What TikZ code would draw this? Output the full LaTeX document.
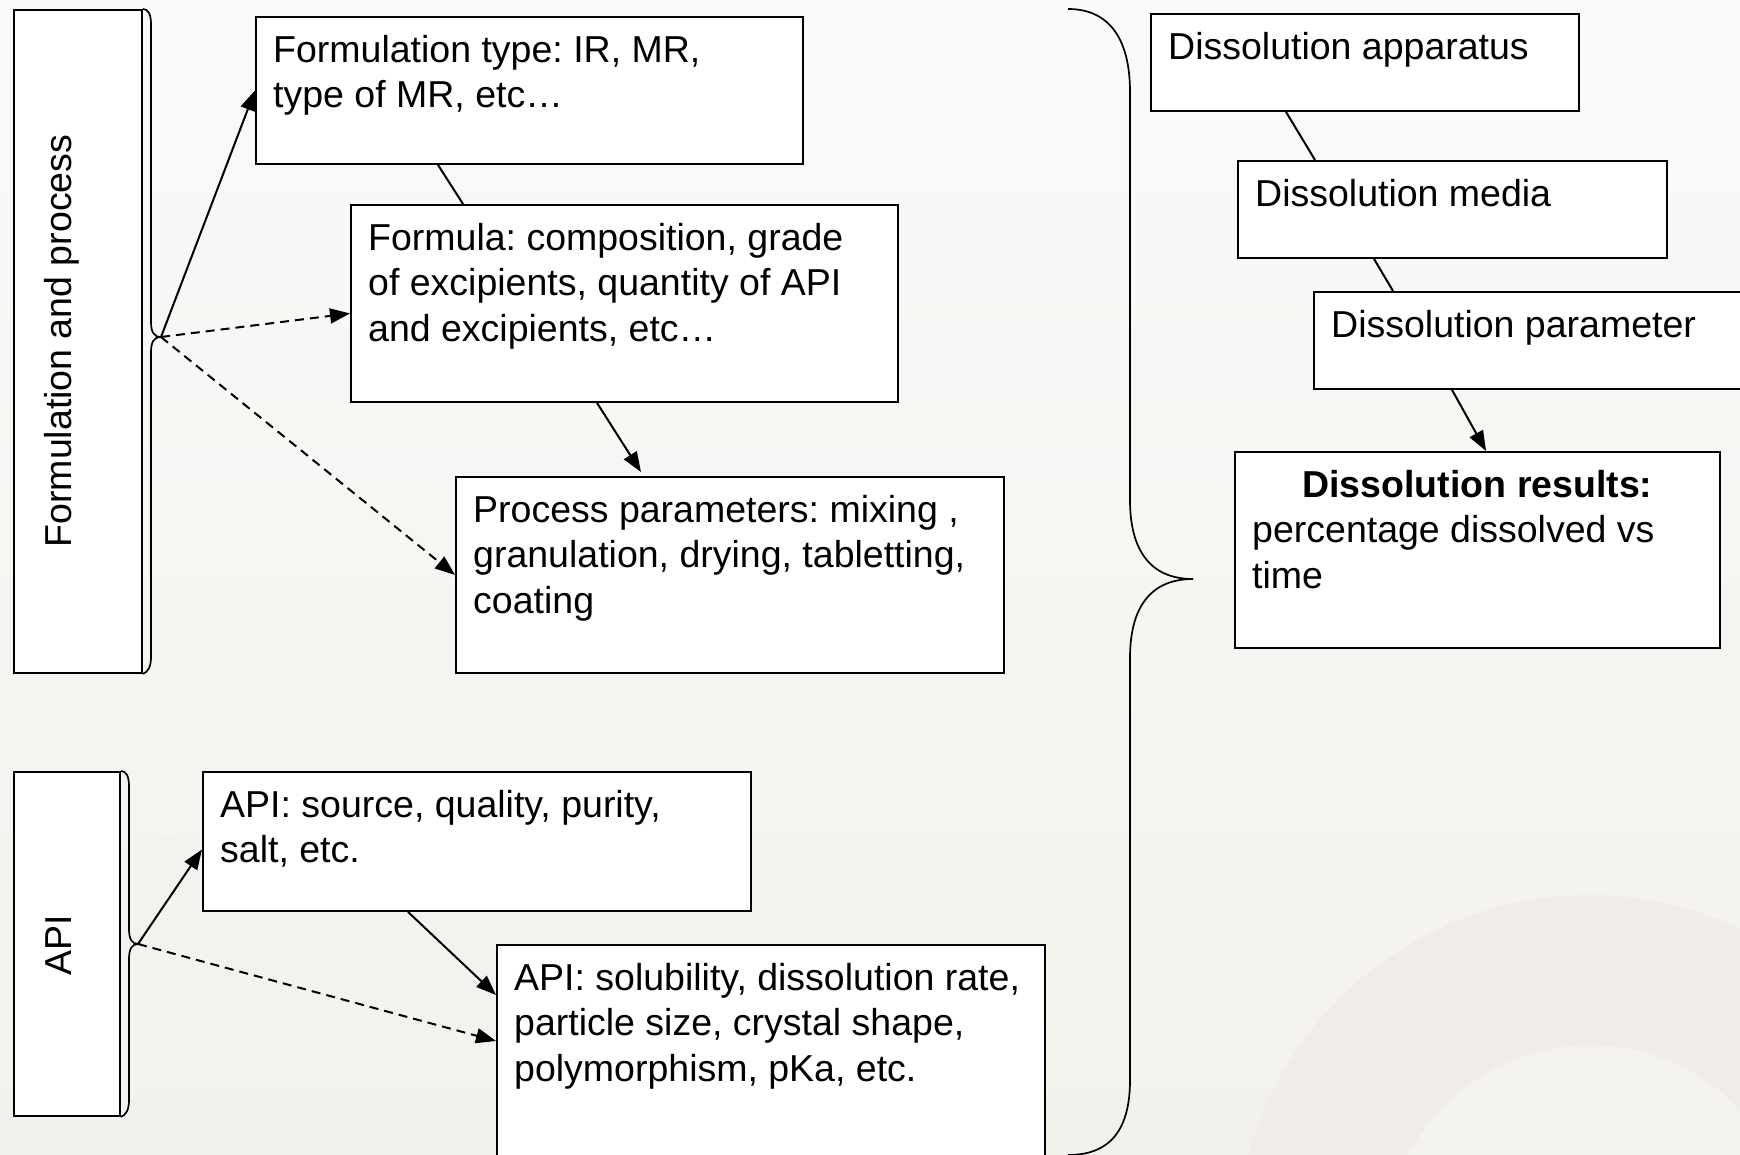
\documentclass[tikz,border=0pt]{standalone}
\usepackage{fontspec}
\setmainfont{Liberation Sans}
\usetikzlibrary{arrows.meta,calc}
\definecolor{bgTop}{HTML}{FAFAF9}
\definecolor{bgBot}{HTML}{F3F1EC}
\definecolor{bgBand}{HTML}{F0EDE9}
\definecolor{bgIn}{HTML}{F4F2EF}
\frenchspacing
\begin{document}
\begin{tikzpicture}[x=1pt,y=-1pt,
  box/.style={draw=black, fill=white, line width=1.9pt, rectangle, inner sep=0pt, anchor=north west},
  grp/.style={box},
  txt/.style={anchor=north west, inner sep=0pt, align=left, font=\fontsize{37.5}{45.5}\selectfont},
  rot/.style={rotate=90, anchor=base, inner sep=0pt, font=\fontsize{37.5}{45.5}\selectfont},
  con/.style={line width=2pt},
  arr/.style={con, -{Triangle[length=20pt,width=15pt]}},
  darr/.style={arr, dash pattern=on 9pt off 6pt},
  brace/.style={line width=1.7pt}]
\useasboundingbox (0,0) rectangle (1740,1155);
\begin{scope}
\clip (0,0) rectangle (1740,1155);
% background
\shade[top color=bgTop, bottom color=bgBot] (0,0) rectangle (1740,1155);
\fill[bgBand] (1590,1250) circle (355pt);
\fill[bgIn] (1590,1250) circle (205pt);
\fill[bgIn, opacity=0.6] (250,1350) circle (520pt);

% left groups
\node[grp, minimum width=128pt, minimum height=663pt] (gF) at (13,9) {};
\node[rot] (lF) at (71,341) {Formulation and process};
\draw[brace] (gF.north east) .. controls (148,9) and (151,14) .. (151,24) -- (151,322)
  .. controls (151,332) and (154,337) .. (161,337)
  .. controls (154,337) and (151,342) .. (151,352) -- (151,657)
  .. controls (151,667) and (148,672) .. (gF.south east);
\coordinate (tF) at (161,337);

\node[grp, minimum width=106pt, minimum height=344pt] (gA) at (13,771) {};
\node[rot] (lA) at (71,945) {API};
\draw[brace] (gA.north east) .. controls (126,771) and (129,776) .. (129,786) -- (129,929)
  .. controls (129,939) and (132,944) .. (138,944)
  .. controls (132,944) and (129,949) .. (129,959) -- (129,1100)
  .. controls (129,1110) and (126,1115) .. (gA.south east);
\coordinate (tA) at (138,944);

% formulation boxes
\node[box, minimum width=547pt, minimum height=147pt] (f1) at (255,16) {};
\node[txt] (t1) at ($(f1.north west)+(18,19)$) {Formulation type: IR, MR,\\type of MR, etc…};
\node[box, minimum width=547pt, minimum height=197pt] (f2) at (350,204) {};
\node[txt] (t2) at ($(f2.north west)+(18,19)$) {Formula: composition, grade\\of excipients, quantity of API\\and excipients, etc…};
\node[box, minimum width=548pt, minimum height=196pt] (f3) at (455,476) {};
\node[txt] (t3) at ($(f3.north west)+(18,19)$) {Process parameters: mixing ,\\granulation, drying, tabletting,\\coating};

% API boxes
\node[box, minimum width=548pt, minimum height=139pt] (a1) at (202,771) {};
\node[txt] (t4) at ($(a1.north west)+(18,19)$) {API: source, quality, purity,\\salt, etc.};
\node[box, minimum width=548pt, minimum height=300pt] (a2) at (496,944) {};
\node[txt] (t5) at ($(a2.north west)+(18,19)$) {API: solubility, dissolution rate,\\particle size, crystal shape,\\polymorphism, pKa, etc.};

% dissolution boxes
\node[box, minimum width=428pt, minimum height=97pt] (d1) at (1150,13) {};
\node[txt] (t6) at ($(d1.north west)+(18,19)$) {Dissolution apparatus};
\node[box, minimum width=429pt, minimum height=97pt] (d2) at (1237,160) {};
\node[txt] (t7) at ($(d2.north west)+(18,19)$) {Dissolution media};
\node[box, minimum width=500pt, minimum height=97pt] (d3) at (1313,291) {};
\node[txt] (t8) at ($(d3.north west)+(18,19)$) {Dissolution parameter};
\node[box, minimum width=485pt, minimum height=196pt] (d4) at (1234,451) {};
\node[anchor=base, inner sep=0pt, font=\fontsize{37.5}{45.5}\selectfont\bfseries] (t9) at ($(d4.north)+(0,46)$) {Dissolution results:};
\node[txt] (t10) at ($(d4.north west)+(18,64.5)$) {percentage dissolved vs\\time};

% big brace
\draw[brace] (1068,9) .. controls (1110,9) and (1130,40) .. (1130,92) -- (1130,500)
  .. controls (1130,550) and (1150,579) .. (1193,579)
  .. controls (1150,579) and (1130,608) .. (1130,658) -- (1130,1080)
  .. controls (1130,1130) and (1110,1155) .. (1068,1155);

% connectors
\draw[arr] (tF) -- (f1.west);
\draw[darr] (tF) -- ([yshift=-10pt]f2.west);
\draw[darr] (tF) -- (f3.west);
\draw[con] ([xshift=183pt]f1.south west) -- ([xshift=113pt]f2.north west);
\draw[arr] ([xshift=247pt]f2.south west) -- ([xshift=186pt,yshift=4pt]f3.north west);

\draw[arr] (tA) -- ([yshift=-8pt]a1.west);
\draw[darr] (tA) -- ([yshift=-97pt]a2.north west);
\draw[arr] ([xshift=206pt]a1.south west) -- ([yshift=-51pt]a2.north west);

\draw[con] ([xshift=136pt]d1.south west) -- ([xshift=78pt]d2.north west);
\draw[con] ([xshift=137pt]d2.south west) -- ([xshift=80pt]d3.north west);
\draw[arr] ([xshift=139pt]d3.south west) -- ([xshift=252pt]d4.north west);
\end{scope}
\end{tikzpicture}
\end{document}
